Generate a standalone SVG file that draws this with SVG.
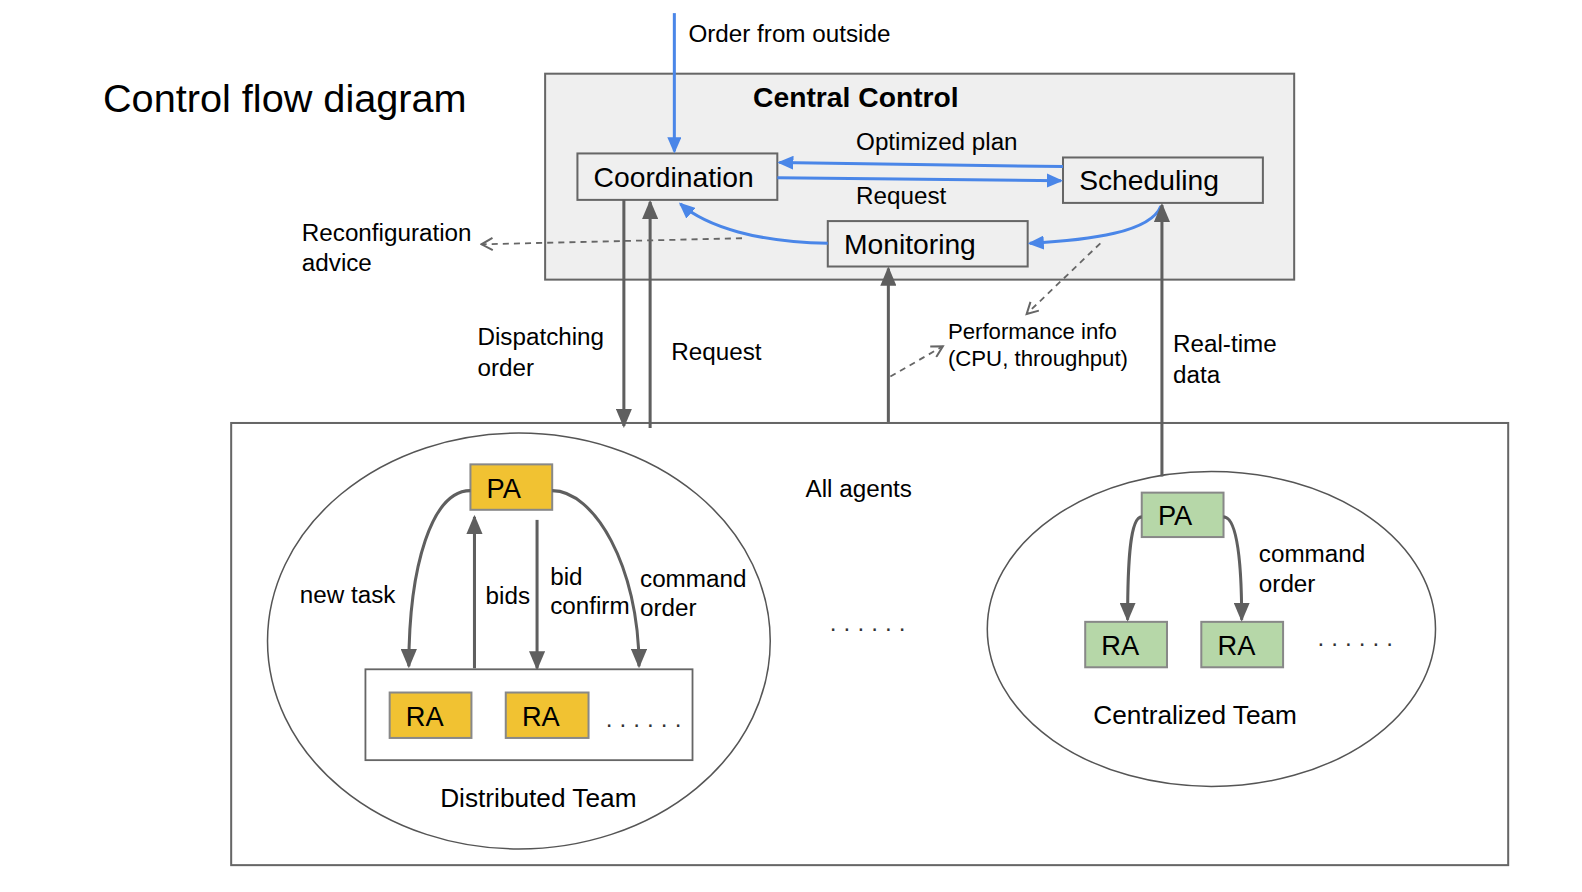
<svg xmlns="http://www.w3.org/2000/svg" width="1582" height="892" viewBox="0 0 1582 892">
<style>
text{font-family:"Liberation Sans",Arial,sans-serif;fill:#000}
.lbl{font-size:24px}
.small{font-size:22px}
.node{font-size:28px}
.agent{font-size:27px}
.team{font-size:26px}
.box{fill:#efefef;stroke:#666;stroke-width:2}
.pay{fill:#f1c232;stroke:#888;stroke-width:2}
.grn{fill:#b6d7a8;stroke:#888;stroke-width:2}
.frame{fill:#fff;stroke:#666;stroke-width:2}
.ell{fill:#fff;stroke:#555;stroke-width:1.5}
.blue{fill:none;stroke:#4a86e8;stroke-width:3}
.gray{fill:none;stroke:#5f5f5f;stroke-width:3}
.dash{fill:none;stroke:#666;stroke-width:1.8;stroke-dasharray:6 5}
.dots{font-size:24px;letter-spacing:7px;fill:#333}
</style>
<defs>
<marker id="ab" markerUnits="userSpaceOnUse" markerWidth="16" markerHeight="14" refX="14" refY="7" orient="auto"><path d="M0,0 L16,7 L0,14 z" fill="#4a86e8"/></marker>
<marker id="ag" markerUnits="userSpaceOnUse" markerWidth="19" markerHeight="16" refX="17" refY="8" orient="auto"><path d="M0,0 L19,8 L0,16 z" fill="#5f5f5f"/></marker>
<marker id="ad" markerUnits="userSpaceOnUse" markerWidth="14" markerHeight="14" refX="12" refY="7" orient="auto"><path d="M1,1 L12,7 L1,13" fill="none" stroke="#666" stroke-width="2"/></marker>
</defs>
<rect width="1582" height="892" fill="#fff"/>
<g id="diagram" transform="scale(1.0095)">
<text x="102" y="111" style="font-size:39.3px">Control flow diagram</text>

<g id="central-control">
<rect class="box" x="540" y="73" width="742" height="204"/>
<text x="746" y="106" style="font-size:28px;font-weight:bold">Central Control</text>
</g>
<g id="all-agents">
<rect class="frame" x="229" y="419" width="1265" height="438"/>
<text class="lbl" x="798" y="492">All agents</text>
<text class="dots" x="822" y="625">......</text>
</g>
<g id="distributed-team">
<ellipse class="ell" cx="514" cy="635" rx="249" ry="206"/>
<rect class="frame" x="362" y="663" width="324" height="90" style="stroke-width:1.8"/>
<text class="dots" x="600" y="720">......</text>
<text class="team" x="436" y="799">Distributed Team</text>
</g>
<g id="centralized-team">
<ellipse class="ell" cx="1200" cy="623" rx="222" ry="156"/>
<text class="dots" x="1305" y="640">......</text>
<text class="team" x="1083" y="717">Centralized Team</text>
</g>

<g id="coordination"><rect class="box" x="572" y="152" width="198" height="46"/><text class="node" x="588" y="185">Coordination</text></g>
<g id="scheduling"><rect class="box" x="1053" y="156" width="198" height="45"/><text class="node" x="1069" y="188">Scheduling</text></g>
<g id="monitoring"><rect class="box" x="820" y="219" width="198" height="45"/><text class="node" x="836" y="252">Monitoring</text></g>

<g id="dt-pa"><rect class="pay" x="466" y="460" width="81" height="45"/><text class="agent" x="482" y="493">PA</text></g>
<g id="dt-ra1"><rect class="pay" x="386" y="686" width="81" height="45"/><text class="agent" x="402" y="719">RA</text></g>
<g id="dt-ra2"><rect class="pay" x="501" y="686" width="82" height="45"/><text class="agent" x="517" y="719">RA</text></g>

<g id="ct-pa"><rect class="grn" x="1131" y="488" width="81" height="44"/><text class="agent" x="1147" y="520">PA</text></g>
<g id="ct-ra1"><rect class="grn" x="1075" y="616" width="81" height="45"/><text class="agent" x="1091" y="649">RA</text></g>
<g id="ct-ra2"><rect class="grn" x="1190" y="616" width="81" height="45"/><text class="agent" x="1206" y="649">RA</text></g>

<g id="connectors">
<path class="blue" d="M668,13 L668,150" marker-end="url(#ab)"/>
<path class="blue" d="M1053,165 L772,161" marker-end="url(#ab)"/>
<path class="blue" d="M770,176 L1051,179" marker-end="url(#ab)"/>
<path class="blue" d="M820,241 C752,240 700,225 674,202" marker-end="url(#ab)"/>
<path class="blue" d="M1150,204 C1140,230 1080,238 1020,241" marker-end="url(#ab)"/>

<path class="gray" d="M618,198 L618,422" marker-end="url(#ag)"/>
<path class="gray" d="M644,424 L644,200" marker-end="url(#ag)"/>
<path class="gray" d="M880,418 L880,266" marker-end="url(#ag)"/>
<path class="gray" d="M1151,472 L1151,203" marker-end="url(#ag)"/>

<path class="dash" d="M735,236 L477,242" marker-end="url(#ad)"/>
<path class="dash" d="M1090,241 L1017,311" marker-end="url(#ad)"/>
<path class="dash" d="M882,373 L934,343" marker-end="url(#ad)"/>

<path class="gray" d="M466,486 C428,486 405,560 405,660" marker-end="url(#ag)"/>
<path class="gray" d="M547,486 C588,486 633,560 633,660" marker-end="url(#ag)"/>
<path class="gray" d="M470,662 L470,512" marker-end="url(#ag)"/>
<path class="gray" d="M532,515 L532,662" marker-end="url(#ag)"/>

<path class="gray" d="M1131,512 C1119,512 1117,560 1117,614" marker-end="url(#ag)"/>
<path class="gray" d="M1212,512 C1226,512 1230,560 1230,614" marker-end="url(#ag)"/>
</g>

<g id="labels">
<text class="lbl" x="682" y="42">Order from outside</text>
<text class="lbl" x="848" y="149">Optimized plan</text>
<text class="lbl" x="848" y="202">Request</text>
<text class="lbl" x="299" y="239">Reconfiguration</text>
<text class="lbl" x="299" y="268">advice</text>
<text class="lbl" x="473" y="342">Dispatching</text>
<text class="lbl" x="473" y="372">order</text>
<text class="lbl" x="665" y="357">Request</text>
<text class="small" x="939" y="336">Performance info</text>
<text class="small" x="939" y="363">(CPU, throughput)</text>
<text class="lbl" x="1162" y="349">Real-time</text>
<text class="lbl" x="1162" y="379">data</text>
<text class="lbl" x="297" y="597">new task</text>
<text class="lbl" x="481" y="598">bids</text>
<text class="lbl" x="545" y="579">bid</text>
<text class="lbl" x="545" y="608">confirm</text>
<text class="lbl" x="634" y="581">command</text>
<text class="lbl" x="634" y="610">order</text>
<text class="lbl" x="1247" y="557">command</text>
<text class="lbl" x="1247" y="586">order</text>
</g>
</g>
</svg>
